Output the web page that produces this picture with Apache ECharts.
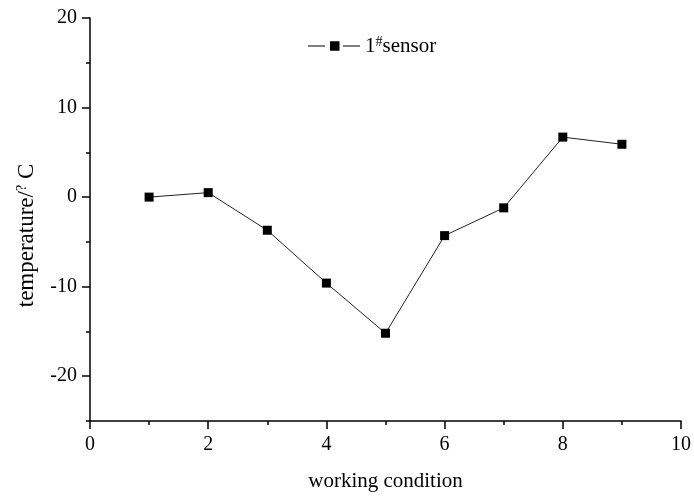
<!DOCTYPE html>
<html>
<head>
<meta charset="utf-8">
<script src="https://cdn.jsdelivr.net/npm/echarts@6/dist/echarts.min.js"></script>
<style>html,body{margin:0;padding:0;background:#fff}#c{width:694px;height:497px}</style>
</head>
<body>
<div id="c"></div>
<script>
var conditions = [1, 2, 3, 4, 5, 6, 7, 8, 9];
var temperatures = [0.0, 0.5, -3.7, -9.6, -15.2, -4.3, -1.2, 6.7, 5.9];
var yTickLabels = [-20, -10, 0, 10, 20];
var xTickLabels = [0, 2, 4, 6, 8, 10];
var seriesName = '1#sensor';

var FONT = 'Liberation Serif';
var chart = echarts.init(document.getElementById('c'), null, {renderer: 'canvas'});
var data = conditions.map(function (c, i) { return [c, temperatures[i]]; });

chart.setOption({
  animation: false,
  backgroundColor: '#fff',
  grid: {left: 90, right: 13, top: 18, bottom: 75},
  legend: {
    data: [{name: seriesName,
      icon: 'path://M0,4.4h17v1.2h-17z M22,0.3h9.5v9.4h-9.5z M35,4.4h17v1.2h-17z'}],
    left: 303, top: 30,
    itemWidth: 52, itemHeight: 10, itemGap: 6,
    itemStyle: {color: '#000'},
    formatter: function () { return '{a|1}{s|#}{a|sensor}'; },
    textStyle: {
      fontFamily: FONT, color: '#000', fontSize: 21,
      rich: {
        a: {fontFamily: FONT, fontSize: 21, color: '#000'},
        s: {fontFamily: FONT, fontSize: 14, color: '#000', verticalAlign: 'top', padding: [0, 0, 8, 0]}
      }
    }
  },
  xAxis: {
    type: 'value', min: 0, max: 10, interval: 2,
    name: 'working condition', nameLocation: 'middle', nameGap: 50,
    nameTextStyle: {fontFamily: FONT, fontSize: 21, color: '#000'},
    axisLine: {show: true, onZero: false, lineStyle: {color: '#000', width: 1.5}},
    axisTick: {show: true, inside: false, length: 8, lineStyle: {color: '#000', width: 1.5}},
    minorTick: {show: true, splitNumber: 2, length: 4, lineStyle: {color: '#000', width: 1.5}},
    axisLabel: {fontFamily: FONT, fontSize: 20, color: '#000', margin: 14,
      customValues: xTickLabels},
    splitLine: {show: false}
  },
  yAxis: [{
    type: 'value', min: -25, max: 20, interval: 5,
    name: '{a|temperature/}{s|?}{a| C}', nameLocation: 'middle', nameGap: 52, nameRotate: 90,
    nameTextStyle: {fontFamily: FONT, fontSize: 23, color: '#000', padding: [0, 32, 0, 0],
      rich: {
        a: {fontFamily: FONT, fontSize: 23, color: '#000'},
        s: {fontFamily: FONT, fontSize: 14, color: '#000', verticalAlign: 'top', padding: [0, 0, 9, 0]}
      }},
    axisLine: {show: true, onZero: false, lineStyle: {color: '#000', width: 1.5}},
    axisTick: {show: true, length: 8, customValues: yTickLabels, lineStyle: {color: '#000', width: 1.5}},
    axisLabel: {fontFamily: FONT, fontSize: 20, color: '#000', margin: 13, customValues: yTickLabels},
    splitLine: {show: false}
  }, {
    type: 'value', min: -25, max: 20, interval: 5, position: 'left',
    axisLine: {show: false, onZero: false},
    axisTick: {show: true, length: 4, lineStyle: {color: '#000', width: 1.5}},
    axisLabel: {show: false},
    splitLine: {show: false}
  }],
  series: [{
    name: seriesName,
    type: 'line',
    yAxisIndex: 0,
    data: data,
    symbol: 'rect', symbolSize: 9,
    itemStyle: {color: '#000'},
    lineStyle: {color: '#222', width: 1}
  }]
});
</script>
</body>
</html>
